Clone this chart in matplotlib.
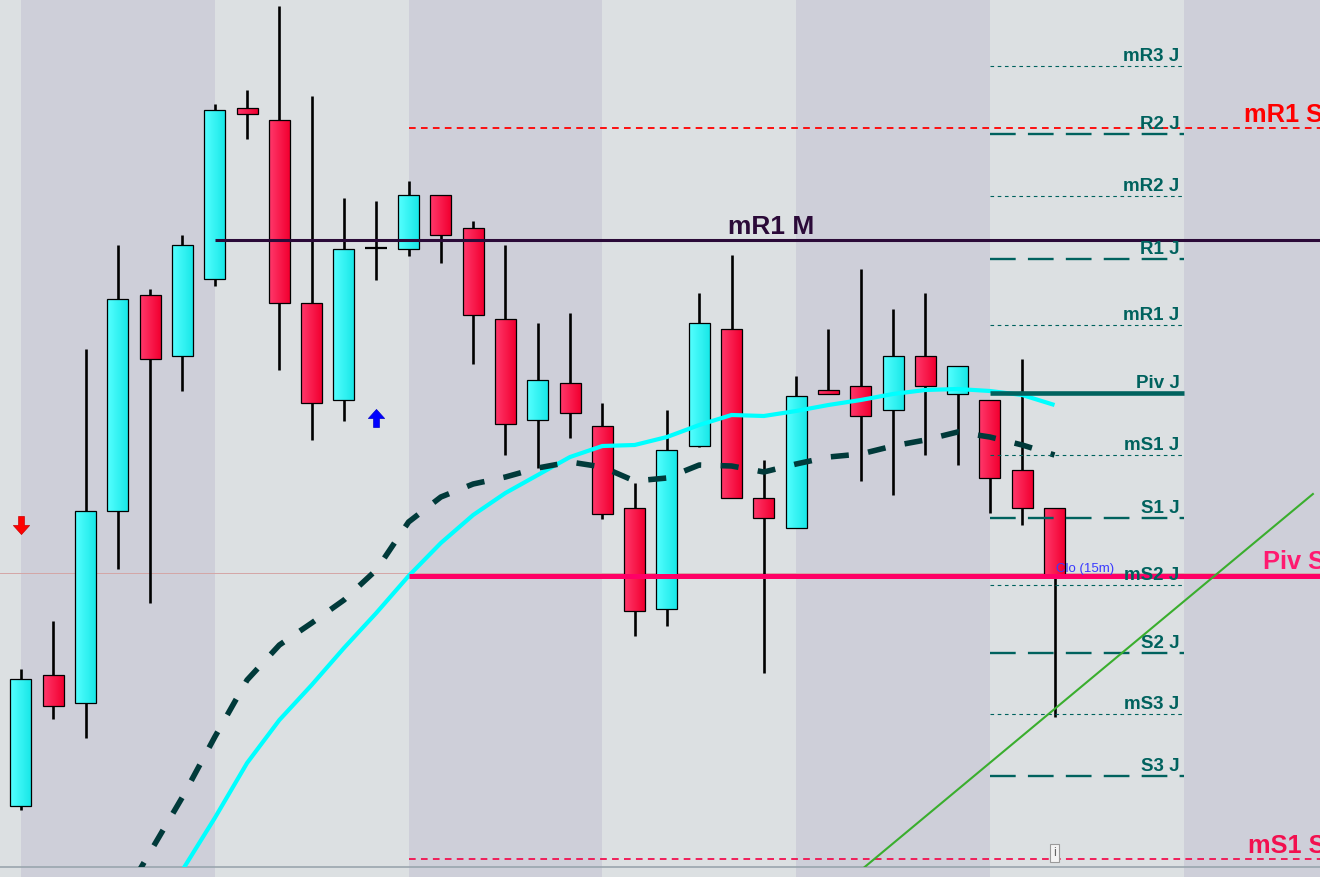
import numpy as np
import matplotlib.pyplot as plt
from matplotlib.patches import Rectangle
from matplotlib.path import Path

plt.rcParams['font.family'] = ['Liberation Sans', 'DejaVu Sans']
plt.rcParams['lines.scale_dashes'] = False

# свечи (значения в условных пунктах)
opens  = [71, 202, 174, 366, 582, 521, 598, 769, 757, 574, 477, 629, 628, 682, 649, 558, 457,
          494, 451, 369, 268, 431, 548, 379, 349, 487, 491, 467, 521, 483, 477, 407, 369]
highs  = [208, 256, 528, 632, 588, 642, 773, 787, 871, 781, 679, 676, 696, 682, 656, 632, 554,
          564, 474, 394, 467, 584, 622, 417, 501, 548, 608, 568, 584, 511, 477, 518, 369]
lows   = [67, 158, 139, 308, 274, 486, 591, 738, 507, 437, 456, 597, 621, 614, 513, 422, 409,
          439, 358, 241, 251, 430, 379, 204, 349, 483, 396, 382, 422, 412, 364, 352, 160]
closes = [198, 171, 366, 578, 518, 632, 767, 763, 574, 474, 628, 629, 682, 642, 562, 453, 497,
          464, 363, 266, 427, 554, 379, 359, 481, 483, 461, 521, 491, 511, 399, 369, 302]

# ковзні середні
fast_start = 5
ma_fast = [7, 59, 114, 157, 192, 229, 264, 301, 334, 362, 384, 402, 420, 431, 432, 440,
           452, 462, 461, 466, 472, 477, 483, 487, 488, 486, 482, 472]
slow_start = 3
ma_slow = [-30, 25, 80, 140, 197, 232, 254, 277, 307, 355, 380, 393, 400, 409, 415, 410,
           396, 399, 412, 411, 405, 413, 420, 423, 431, 437, 445, 440, 432, 422]

# денні рівні (J)
day_names  = ['mR3 J', 'R2 J', 'mR2 J', 'R1 J', 'mR1 J', 'Piv J',
              'mS1 J', 'S1 J', 'mS2 J', 'S2 J', 'mS3 J', 'S3 J']
day_levels = [811, 743, 681, 618, 552, 484, 422, 359, 292, 224, 163, 101]

# інші рівні
mr1_m = 637
mr1_s = 749
piv_s = 301
ms1_s = 18
cursor_level = 304
clo_level = 305
floor_level = 10.5

trend_x = [26, 40]
trend_y = [6.7, 383]

sell_signals = [(0, 352)]
buy_signals = [(11, 459)]

n = len(opens)
teal = '#00625e'

fig = plt.figure(figsize=(13.2, 8.77), dpi=100)
ax = fig.add_axes([0, 0, 1, 1])
ax.set_facecolor('#dce0e2')
ax.axis('off')
fig.patch.set_facecolor('#dce0e2')
x_left, x_right = -0.65, 40.22

# смуги фону
for k in range(0, 42, 12):
    ax.axvspan(k, k + 6, color='#cecfd9', zorder=0, lw=0)

ax.axhline(cursor_level, color='#d4a6a6', lw=0.7, zorder=1)
ax.axhline(floor_level, color='#9aa6ae', lw=1.2, zorder=1)

# область, за яку лінії не виходять
clip = Rectangle((x_left, floor_level), x_right - x_left, 900,
                 transform=ax.transData, visible=False)
ax.add_patch(clip)

# свічки
w = 0.65
cyan_l, cyan_r = np.array([0.33, 1.0, 1.0]), np.array([0.10, 0.91, 0.91])
red_l, red_r = np.array([1.0, 0.22, 0.42]), np.array([0.95, 0.0, 0.19])
t = np.linspace(0, 1, 24)[:, None]
for i in range(n):
    o, h, l, c = opens[i], highs[i], lows[i], closes[i]
    ax.vlines(i, l, h, color='black', lw=1.9, zorder=3)
    if o == c:
        ax.hlines(o, i - 0.34, i + 0.34, color='black', lw=1.6, zorder=4)
        continue
    left, right = (cyan_l, cyan_r) if c > o else (red_l, red_r)
    grad = (left * (1 - t) + right * t)[None, :, :]
    lo, hi = min(o, c), max(o, c)
    ax.imshow(grad, extent=[i - w / 2, i + w / 2, lo, hi], aspect='auto',
              interpolation='bilinear', zorder=4)
    ax.add_patch(Rectangle((i - w / 2, lo), w, hi - lo, fill=False,
                           ec='black', lw=0.9, zorder=5))

# ковзні середні
l1, = ax.plot(np.arange(fast_start, fast_start + len(ma_fast)), ma_fast,
              color='#00ffff', lw=3.0, zorder=7, solid_capstyle='butt')
l2, = ax.plot(np.arange(slow_start, slow_start + len(ma_slow)), ma_slow,
              color='#003a3a', lw=4.0, dashes=(13, 14), zorder=7)

# рівні місяця / тижня
ax.hlines(mr1_m, 6, x_right, color='#2b0a38', lw=2.2, zorder=8)
ax.annotate('mR1 M', (21.9, mr1_m), xytext=(0, 4), textcoords='offset points',
            fontsize=19, fontweight='bold', color='#2b0a38', va='baseline', zorder=10)

ax.hlines(mr1_s, 12, x_right, color='#ff0000', lw=1.3, linestyles=(0, (4.8, 3.8)), zorder=8)
ax.annotate('mR1 S', (37.88, mr1_s), xytext=(0, 4.3), textcoords='offset points',
            fontsize=18.3, fontweight='bold', color='#ff0000', va='baseline', zorder=10)

ax.hlines(piv_s, 12, x_right, color='#ff0066', lw=3.6, zorder=8)
ax.annotate('Piv S', (38.44, piv_s), xytext=(0, 5), textcoords='offset points',
            fontsize=18.3, fontweight='bold', color='#ff1a70', va='baseline', zorder=10)

ax.hlines(ms1_s, 12, x_right, color='#f2104f', lw=1.3, linestyles=(0, (4.8, 3.8)), zorder=8)
ax.annotate('mS1 S', (37.98, ms1_s), xytext=(0, 4.3), textcoords='offset points',
            fontsize=18.3, fontweight='bold', color='#f2104f', va='baseline', zorder=10)

# денні рівні
for name, lev in zip(day_names, day_levels):
    if name.startswith('Piv'):
        ax.hlines(lev, 30, 36, color=teal, lw=3.3, zorder=8)
    elif name.startswith('m'):
        ax.hlines(lev, 30, 36, color=teal, lw=0.8, linestyles=(0, (2.6, 2.6)), zorder=8)
    else:
        ax.hlines(lev, 30, 36, color=teal, lw=1.7, linestyles=(0, (18.5, 8.8)), zorder=8)
    ax.annotate(name, (35.87, lev), xytext=(0, 3.3), textcoords='offset points',
                fontsize=13.5, fontweight='bold', color=teal, ha='right',
                va='baseline', zorder=9)

# лінія тренду
l3, = ax.plot(trend_x, trend_y, color='#3aae2e', lw=1.5, zorder=9)
for ln in (l1, l2, l3):
    ln.set_clip_path(clip)

# стрілки сигналів
arrow = Path([(-0.16, 0.5), (0.16, 0.5), (0.16, 0.0), (0.45, 0.0), (0.0, -0.5),
              (-0.45, 0.0), (-0.16, 0.0), (-0.16, 0.5)], closed=True)
up_arrow = Path(arrow.vertices * np.array([1, -1]), closed=True)
for x, y in sell_signals:
    ax.plot(x, y, marker=arrow, ms=13, color='#ff0000', mec='#cc0000', mew=0.5, zorder=11)
for x, y in buy_signals:
    ax.plot(x, y, marker=up_arrow, ms=13, color='#0000ff', mec='#0000cc', mew=0.5, zorder=11)

ax.text(32.06, clo_level, 'Clo (15m)', fontsize=9.5, color='#3a3aff',
        va='baseline', zorder=11)
ax.text(32.0, 24, 'i', fontsize=9, color='#666666', ha='center', va='center',
        bbox=dict(boxstyle='square,pad=0.25', fc='#f4f4f4', ec='#9a9a9a', lw=0.8), zorder=11)

ax.set_xlim(x_left, x_right)
ax.set_ylim(0, 877)

fig.savefig('out.png', dpi=100)
